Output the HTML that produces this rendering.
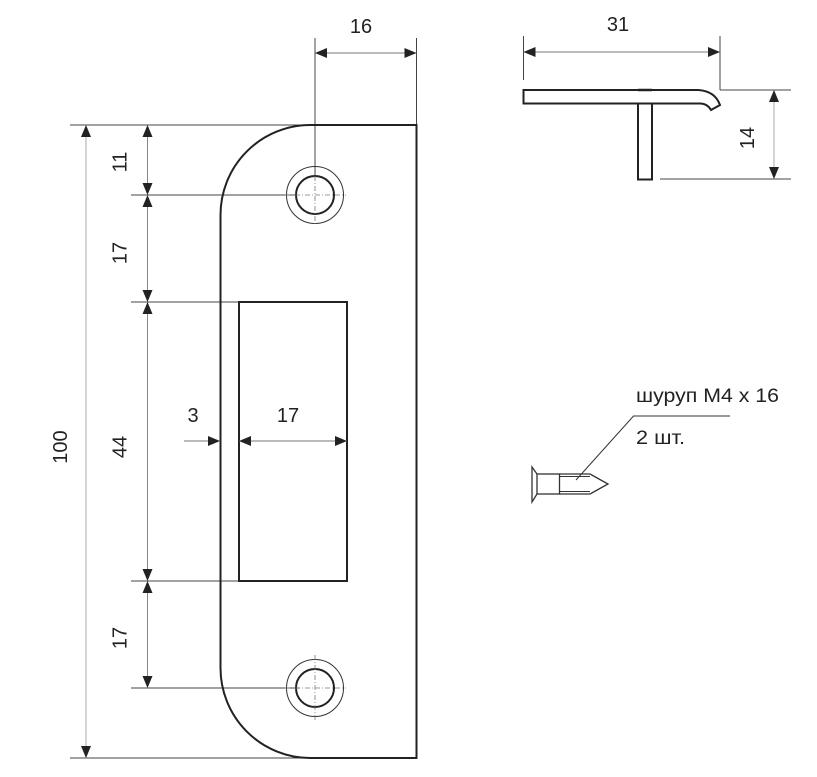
<!DOCTYPE html>
<html>
<head>
<meta charset="utf-8">
<style>
  html,body{margin:0;padding:0;background:#fff;}
  svg{display:block;}
  text{font-family:"Liberation Sans","DejaVu Sans",sans-serif;fill:#222;}
</style>
</head>
<body>
<svg width="817" height="777" viewBox="0 0 817 777" xmlns="http://www.w3.org/2000/svg">
  <rect width="817" height="777" fill="#fff"/>

  <!-- ===== Extension lines (left view) ===== -->
  <g stroke="#444" stroke-width="1" fill="none">
    <line x1="70" y1="125" x2="312" y2="125"/>
    <line x1="131" y1="195" x2="296" y2="195"/>
    <line x1="131" y1="302" x2="239" y2="302"/>
    <line x1="131" y1="581" x2="239" y2="581"/>
    <line x1="131" y1="688" x2="300" y2="688"/>
    <line x1="70" y1="758" x2="312" y2="758"/>
    <line x1="315" y1="38" x2="315" y2="176"/>
    <line x1="416.5" y1="38" x2="416.5" y2="125"/>
  </g>

  <!-- ===== Plate outline ===== -->
  <path d="M 310,125 L 416.5,125 L 416.5,758 L 310,758 A 90 90 0 0 1 220.5,668 L 220.5,215 A 90 90 0 0 1 310,125 Z"
        fill="none" stroke="#222" stroke-width="2"/>
  <rect x="239" y="302" width="108" height="279" fill="none" stroke="#222" stroke-width="2"/>

  <!-- ===== Holes ===== -->
  <g fill="none">
    <circle cx="315" cy="195" r="28.5" stroke="#333" stroke-width="1"/>
    <circle cx="315" cy="195" r="19" stroke="#222" stroke-width="2"/>
    <circle cx="315" cy="688" r="28.5" stroke="#333" stroke-width="1"/>
    <circle cx="315" cy="688" r="19" stroke="#222" stroke-width="2"/>
    <g stroke="#777" stroke-width="0.8" stroke-dasharray="5 2 1 2">
      <line x1="285" y1="195" x2="346" y2="195"/>
      <line x1="315" y1="176" x2="315" y2="225"/>
      <line x1="285" y1="688" x2="346" y2="688"/>
      <line x1="315" y1="655" x2="315" y2="720"/>
    </g>
  </g>

  <!-- ===== Dimension lines ===== -->
  <g stroke-width="1" fill="none">
    <line x1="86" y1="125" x2="86" y2="758" stroke="#aaa"/>
    <line x1="147.5" y1="125" x2="147.5" y2="688" stroke="#888"/>
    <line x1="315" y1="53" x2="416.5" y2="53" stroke="#777"/>
    <line x1="184" y1="441" x2="220" y2="441" stroke="#777"/>
    <line x1="239" y1="441" x2="347" y2="441" stroke="#777"/>
  </g>

  <!-- arrowheads -->
  <g fill="#222">
    <!-- 100 -->
    <polygon points="86,125 81,137 91,137"/>
    <polygon points="86,758 81,746 91,746"/>
    <!-- 11 -->
    <polygon points="147.5,125 142.5,137 152.5,137"/>
    <polygon points="147.5,195 142.5,183 152.5,183"/>
    <!-- 17 -->
    <polygon points="147.5,195 142.5,207 152.5,207"/>
    <polygon points="147.5,302 142.5,290 152.5,290"/>
    <!-- 44 -->
    <polygon points="147.5,302 142.5,314 152.5,314"/>
    <polygon points="147.5,581 142.5,569 152.5,569"/>
    <!-- 17 -->
    <polygon points="147.5,581 142.5,593 152.5,593"/>
    <polygon points="147.5,688 142.5,676 152.5,676"/>
    <!-- 16 -->
    <polygon points="315,53 327,48 327,58"/>
    <polygon points="416.5,53 404.5,48 404.5,58"/>
    <!-- 3 -->
    <polygon points="220,441 208,436 208,446"/>
    <!-- 17 inner -->
    <polygon points="239,441 251,436 251,446"/>
    <polygon points="347,441 335,436 335,446"/>
  </g>

  <!-- labels (left view) -->
  <text x="361" y="33" font-size="20" text-anchor="middle">16</text>
  <text x="193" y="422" font-size="20" text-anchor="middle">3</text>
  <text x="288" y="422" font-size="20" text-anchor="middle">17</text>
  <text transform="translate(119.5,162) rotate(-90)" x="0" y="7.2" font-size="20" text-anchor="middle">11</text>
  <text transform="translate(119.5,253) rotate(-90)" x="0" y="7.2" font-size="20" text-anchor="middle">17</text>
  <text transform="translate(119.5,447) rotate(-90)" x="0" y="7.2" font-size="20" text-anchor="middle">44</text>
  <text transform="translate(119.5,638) rotate(-90)" x="0" y="7.2" font-size="20" text-anchor="middle">17</text>
  <text transform="translate(60,447) rotate(-90)" x="0" y="7.2" font-size="20" text-anchor="middle">100</text>

  <!-- ===== Side view (top right) ===== -->
  <g stroke="#444" stroke-width="1" fill="none">
    <line x1="523.5" y1="36" x2="523.5" y2="80"/>
    <line x1="720" y1="36" x2="720" y2="90"/>
    <line x1="720" y1="90" x2="791" y2="90"/>
    <line x1="660" y1="179" x2="791" y2="179"/>
  </g>
  <line x1="523.5" y1="52" x2="720" y2="52" stroke="#777" stroke-width="1"/>
  <line x1="774" y1="90" x2="774" y2="179" stroke="#aaa" stroke-width="1"/>
  <g fill="#222">
    <polygon points="523.5,52 535.5,47 535.5,57"/>
    <polygon points="720,52 708,47 708,57"/>
    <polygon points="774,90 769,102 779,102"/>
    <polygon points="774,179 769,167 779,167"/>
  </g>
  <path d="M 523.5,90 L 698,90 Q 715,91 720,105 L 711,110 Q 707,103 699,103.5 L 523.5,103.5 Z"
        fill="none" stroke="#222" stroke-width="2"/>
  <rect x="638" y="103.5" width="14" height="76" fill="none" stroke="#222" stroke-width="2"/>
  <line x1="638" y1="90" x2="652" y2="90" stroke="#222" stroke-width="2.5"/>
  <text x="618" y="31" font-size="20" text-anchor="middle">31</text>
  <text transform="translate(747,138) rotate(-90)" x="0" y="7.2" font-size="20" text-anchor="middle">14</text>

  <!-- ===== Screw ===== -->
  <g stroke="#333" stroke-width="1.3" fill="none">
    <polyline points="537,474 532,467 532,502 537,494"/>
    <rect x="537" y="474" width="22.5" height="20"/>
    <line x1="559.5" y1="474" x2="590" y2="474"/>
    <line x1="559.5" y1="494" x2="590" y2="494"/>
    <line x1="559.5" y1="476.5" x2="590" y2="476.5" stroke-width="1"/>
    <line x1="559.5" y1="491.5" x2="590" y2="491.5" stroke-width="1"/>
    <polyline points="590,474 608,484 590,494"/>
  </g>
  <polyline points="576,480 633.5,416 730,416" fill="none" stroke="#333" stroke-width="1"/>
  <text x="636" y="402" font-size="19" textLength="143" lengthAdjust="spacingAndGlyphs">шуруп М4 х 16</text>
  <text x="636" y="444" font-size="19" textLength="49" lengthAdjust="spacingAndGlyphs">2 шт.</text>
</svg>
</body>
</html>
